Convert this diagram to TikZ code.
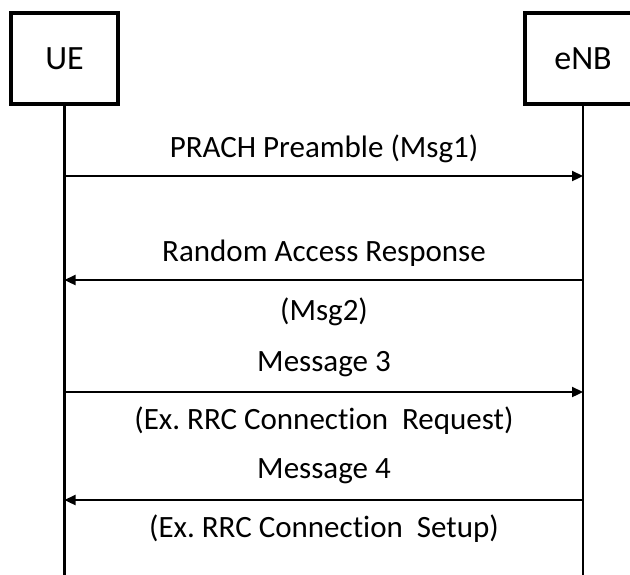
\documentclass[tikz,border=0pt]{standalone}
\usepackage{fontspec}
\setmainfont{Carlito}[Ligatures=NoCommon]
\usetikzlibrary{arrows.meta}
\frenchspacing
\begin{document}
\begin{tikzpicture}[x=1pt,y=-1pt,
  entity/.style={draw, line width=3.8pt, inner sep=0pt, font=\fontsize{34}{40}\selectfont},
  lifeline/.style={line width=2.6pt},
  msgline/.style={line width=2.3pt, -{Triangle[length=11pt,width=10pt]}},
  msglabel/.style={anchor=base, inner sep=0pt, font=\fontsize{31}{36}\selectfont}]
\useasboundingbox (0,0) rectangle (630,574);
\clip (0,0) rectangle (630,574);

% the two entities
\node[entity, minimum width=107pt, minimum height=91pt] (ue) at (64.5,58.5) {UE};
\node[entity, minimum width=116pt, minimum height=91pt] (enb) at (583,58.5) {eNB};

% lifelines
\coordinate (ueEnd) at (ue.south |- 0,580);
\coordinate (enbEnd) at (enb.south |- 0,580);
\draw[lifeline] (ue.south) -- (ueEnd);
\draw[lifeline] (enb.south) -- (enbEnd);

% message end points on the lifelines
\foreach \n/\y in {1/176, 2/280, 3/392, 4/500}{
  \coordinate (u\n) at (ue.south |- 0,\y);
  \coordinate (e\n) at (enb.south |- 0,\y);
}

% messages
\draw[msgline] (u1) -- (e1);
\draw[msgline] (e2) -- (u2);
\draw[msgline] (u3) -- (e3);
\draw[msgline] (e4) -- (u4);

% labels
\node[msglabel] (l1) at (324,157) {PRACH Preamble (Msg1)};
\node[msglabel] (l2) at (324,261) {Random Access Response};
\node[msglabel] (l2b) at (324,320) {(Msg2)};
\node[msglabel] (l3) at (324,371) {Message 3};
\node[msglabel] (l3b) at (324,429) {(Ex. RRC Connection\ \ Request)};
\node[msglabel] (l4) at (324,478) {Message 4};
\node[msglabel] (l4b) at (324,537) {(Ex. RRC Connection\ \ Setup)};
\end{tikzpicture}
\end{document}
